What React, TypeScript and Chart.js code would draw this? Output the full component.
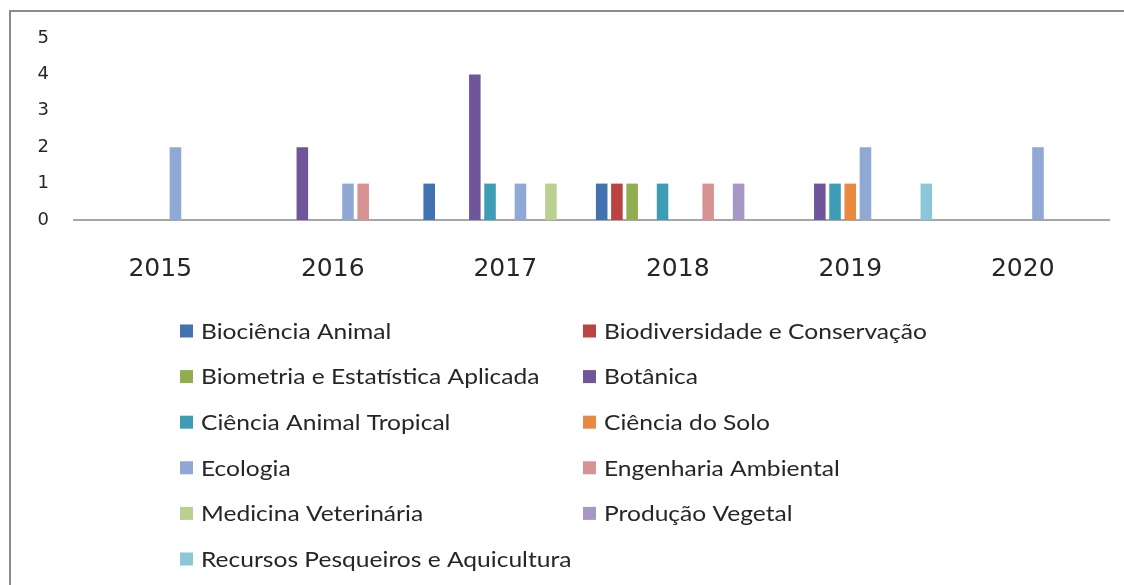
import React, { useEffect, useRef } from "react";
import { Chart, registerables } from "chart.js";

Chart.register(...registerables);

const years = ["2015", "2016", "2017", "2018", "2019", "2020"];
const yTicks = [0, 1, 2, 3, 4, 5];

const seriesNames = [
  "Biociência Animal",
  "Biodiversidade e Conservação",
  "Biometria e Estatística Aplicada",
  "Botânica",
  "Ciência Animal Tropical",
  "Ciência do Solo",
  "Ecologia",
  "Engenharia Ambiental",
  "Medicina Veterinária",
  "Produção Vegetal",
  "Recursos Pesqueiros e Aquicultura",
];

const seriesColors = [
  "#4372B0",
  "#BA4442",
  "#90AE4F",
  "#71559B",
  "#3E9DB5",
  "#EA8940",
  "#8FA9D4",
  "#D69391",
  "#BAD090",
  "#A797C4",
  "#8CC7D9",
];

const biocienciaAnimal = [0, 0, 1, 1, 0, 0];
const biodiversidade = [0, 0, 0, 1, 0, 0];
const biometria = [0, 0, 0, 1, 0, 0];
const botanica = [0, 2, 4, 0, 1, 0];
const cienciaAnimalTropical = [0, 0, 1, 1, 1, 0];
const cienciaDoSolo = [0, 0, 0, 0, 1, 0];
const ecologia = [2, 1, 1, 0, 2, 2];
const engenhariaAmbiental = [0, 1, 0, 1, 0, 0];
const medicinaVeterinaria = [0, 0, 1, 0, 0, 0];
const producaoVegetal = [0, 0, 0, 1, 0, 0];
const recursosPesqueiros = [0, 0, 0, 0, 1, 0];

const seriesValues = [
  biocienciaAnimal,
  biodiversidade,
  biometria,
  botanica,
  cienciaAnimalTropical,
  cienciaDoSolo,
  ecologia,
  engenhariaAmbiental,
  medicinaVeterinaria,
  producaoVegetal,
  recursosPesqueiros,
];

const LEGEND_FONT = "Lato, 'Open Sans', sans-serif";
const AXIS_FONT = "'DejaVu Sans', Verdana, sans-serif";

const legendPlugin = {
  id: "twoColLegend",
  afterDraw(chart: any) {
    const ctx = chart.ctx;
    const ds = chart.data.datasets;
    const colX = [169, 572];
    const rowY0 = 319;
    const rowStep = 45.6;
    const box = 13;
    const stretch = 1.17;
    ctx.save();
    ctx.font = `21px ${LEGEND_FONT}`;
    ctx.textBaseline = "middle";
    ctx.textAlign = "left";
    ds.forEach((d: any, i: number) => {
      const col = i % 2;
      const row = Math.floor(i / 2);
      const x = colX[col];
      const y = rowY0 + row * rowStep;
      ctx.fillStyle = d.backgroundColor;
      ctx.fillRect(x, y - box / 2, box, box);
      ctx.save();
      ctx.translate(x + box + 8, y + 1);
      ctx.scale(stretch, 1);
      ctx.fillStyle = "#262626";
      ctx.fillText(d.label, 0, 0);
      ctx.restore();
    });
    ctx.restore();
  },
};

export default function App() {
  const ref = useRef<HTMLCanvasElement | null>(null);

  useEffect(() => {
    if (!ref.current) return;
    const chart = new Chart(ref.current, {
      type: "bar",
      data: {
        labels: years,
        datasets: seriesNames.map((name, i) => ({
          label: name,
          data: seriesValues[i],
          backgroundColor: seriesColors[i],
          borderWidth: 0,
          categoryPercentage: 0.97,
          barPercentage: 0.76,
        })),
      },
      options: {
        animation: false,
        responsive: false,
        maintainAspectRatio: false,
        layout: { padding: { left: 0, top: 26, right: 15, bottom: 295 } },
        plugins: {
          legend: { display: false },
          tooltip: { enabled: false },
        },
        scales: {
          x: {
            grid: { display: false, drawTicks: false },
            border: { display: true, color: "#A6A6A6", width: 2 },
            ticks: {
              color: "#262626",
              font: { family: AXIS_FONT, size: 25 },
              padding: 34,
              maxRotation: 0,
            },
            afterFit: (axis: any) => {
              axis.height = 70;
              axis.paddingLeft = 0;
              axis.paddingRight = 0;
            },
          },
          y: {
            min: 0,
            max: 5,
            grid: { display: false, drawTicks: false },
            border: { display: false },
            afterBuildTicks: (axis: any) => {
              axis.ticks = yTicks.map((v) => ({ value: v }));
            },
            ticks: {
              color: "#262626",
              font: { family: AXIS_FONT, size: 18 },
              padding: 25,
            },
            afterFit: (axis: any) => {
              axis.width = 63;
              axis.paddingTop = 0;
              axis.paddingBottom = 0;
            },
          },
        },
      },
      plugins: [legendPlugin],
    });
    return () => chart.destroy();
  }, []);

  return (
    <div
      style={{
        position: "fixed",
        left: 9,
        top: 10,
        width: 1115,
        height: 575,
        borderLeft: "2px solid #8C8C8C",
        borderTop: "2px solid #8C8C8C",
        background: "#fff",
        overflow: "hidden",
      }}
    >
      <canvas ref={ref} width={1113} height={573} style={{ display: "block" }} />
    </div>
  );
}
